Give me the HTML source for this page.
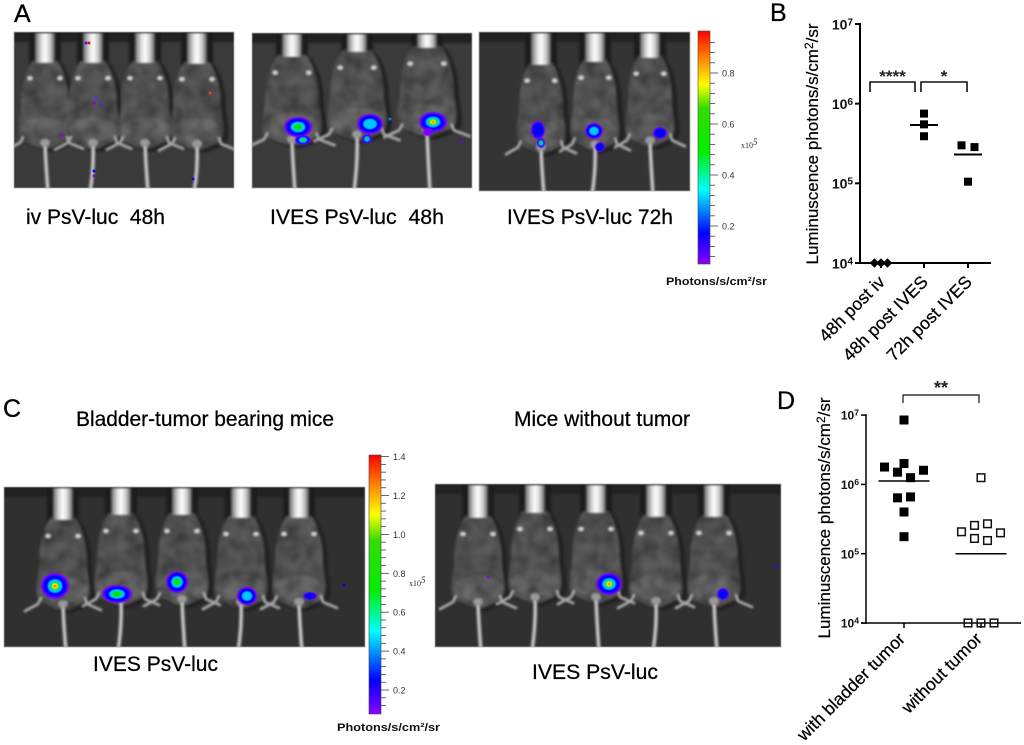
<!DOCTYPE html>
<html lang="en">
<head>
<meta charset="utf-8">
<title>Luminescence imaging figure</title>
<style>
html,body{margin:0;padding:0;background:#fff;}
svg{display:block;font-family:"Liberation Sans",sans-serif;}
</style>
</head>
<body>
<svg id="fig" width="1024" height="745" viewBox="0 0 1024 745" xmlns="http://www.w3.org/2000/svg">
<defs>
<filter id="soft" x="-5%" y="-5%" width="110%" height="110%"><feGaussianBlur stdDeviation="1.1"/></filter>
<filter id="softer" x="-20%" y="-20%" width="140%" height="140%"><feGaussianBlur stdDeviation="0.6"/></filter>
<filter id="mottleBody" x="-5%" y="-5%" width="110%" height="110%">
<feTurbulence type="fractalNoise" baseFrequency="0.07" numOctaves="2" seed="4" result="n"/>
<feColorMatrix in="n" type="matrix" values="0 0 0 0 0  0 0 0 0 0  0 0 0 0 0  0 0 0 1.1 -0.3" result="d"/>
<feComposite in="d" in2="SourceAlpha" operator="in" result="m"/>
<feMerge result="c"><feMergeNode in="SourceGraphic"/><feMergeNode in="m"/></feMerge>
<feGaussianBlur in="c" stdDeviation="1.2"/>
</filter>
<linearGradient id="metal" x1="0" x2="1" y1="0" y2="0">
<stop offset="0" stop-color="#666"/><stop offset=".3" stop-color="#d8d8d8"/><stop offset=".5" stop-color="#fff"/><stop offset=".75" stop-color="#ccc"/><stop offset="1" stop-color="#555"/>
</linearGradient>
<linearGradient id="rainbow" x1="0" x2="0" y1="0" y2="1">
<stop offset="0" stop-color="#f00"/><stop offset=".12" stop-color="#f80"/><stop offset=".23" stop-color="#ff0"/><stop offset=".33" stop-color="#3d0"/><stop offset=".52" stop-color="#0e0"/><stop offset=".68" stop-color="#0ff"/><stop offset=".87" stop-color="#00f"/><stop offset="1" stop-color="#80f"/>
</linearGradient>
</defs>

<g font-size="25" fill="#000" stroke="#000" stroke-width=".3">
<text x="14" y="22">A</text>
<text x="770" y="21">B</text>
<text x="3" y="417">C</text>
<text x="777" y="409">D</text>
</g>

<g font-size="21" fill="#000" stroke="#000" stroke-width=".25">
<text x="26" y="224" textLength="139" lengthAdjust="spacingAndGlyphs">iv PsV-luc&#160;&#160;48h</text>
<text x="270" y="224" textLength="174" lengthAdjust="spacingAndGlyphs">IVES PsV-luc&#160;&#160;48h</text>
<text x="507" y="224" textLength="166" lengthAdjust="spacingAndGlyphs">IVES PsV-luc 72h</text>
<text x="76" y="426" textLength="258" lengthAdjust="spacingAndGlyphs">Bladder-tumor bearing mice</text>
<text x="514" y="426" textLength="176" lengthAdjust="spacingAndGlyphs">Mice without tumor</text>
<text x="93" y="671" textLength="125" lengthAdjust="spacingAndGlyphs">IVES PsV-luc</text>
<text x="532" y="679" textLength="126" lengthAdjust="spacingAndGlyphs">IVES PsV-luc</text>
</g>

<g id="panels"></g>

<g id="barA">
<rect x="698" y="31" width="12" height="233" fill="url(#rainbow)" stroke="#444" stroke-width=".6"/>
<text x="741" y="148" font-family="Liberation Serif" font-size="8" fill="#333">x10<tspan font-size="9" dy="-3" font-style="italic">5</tspan></text>
<text x="666" y="285" font-size="11" font-weight="bold" fill="#111" textLength="101" lengthAdjust="spacingAndGlyphs">Photons/s/cm²/sr</text>
</g>
<g id="barC">
<rect x="369" y="455" width="12" height="259" fill="url(#rainbow)" stroke="#444" stroke-width=".6"/>
<text x="409" y="586" font-family="Liberation Serif" font-size="8" fill="#333">x10<tspan font-size="9" dy="-3" font-style="italic">5</tspan></text>
<text x="337" y="731" font-size="11" font-weight="bold" fill="#111" textLength="103" lengthAdjust="spacingAndGlyphs">Photons/s/cm²/sr</text>
</g>

<g id="chartB"></g>
<g id="chartD"></g>
</svg>

<script>
/* Chart B data */
const bCategories = ['48h post iv', '48h post IVES', '72h post IVES'];
const bPostIv = [10000, 10000, 10000];
const bPostIves48 = [750000, 550000, 390000];
const bPostIves72 = [300000, 285000, 105000];
const bMeans = [10000, 540000, 230000];
const bSwarmSlots = [[-1, 0, 1], [0, 0, 0], [-1, 1, 0]];

/* Chart D data */
const dCategories = ['with bladder tumor', 'without tumor'];
const dWithTumor = [8500000, 2000000, 1780000, 1500000, 1600000, 1250000, 640000, 660000, 400000, 176000];
const dWithoutTumor = [1250000, 256000, 270000, 207000, 200000, 166000, 155000, 10000, 10000, 10000];
const dMeans = [1120000, 100000];
const dSwarmSlots = [[0, 0, -3, -1, 3, 1, -1, 1, 0, 0], [0, -1, 1, -3, 3, -1, 1, -2, 0, 2]];

/* Shared axis data */
const logTicks = [10000, 100000, 1000000, 10000000];
const logTickExponents = ['4', '5', '6', '7'];

/* Colour bar data */
const barATicks = [0.08,0.12,0.16,0.2,0.24,0.28,0.32,0.36,0.4,0.44,0.48,0.52,0.56,0.6,0.64,0.68,0.72,0.76,0.8,0.84,0.88,0.92];
const barALabels = [0.2, 0.4, 0.6, 0.8];
const barCTicks = [0.12,0.16,0.2,0.24,0.28,0.32,0.36,0.4,0.44,0.48,0.52,0.56,0.6,0.64,0.68,0.72,0.76,0.8,0.84,0.88,0.92,0.96,1.0,1.04,1.08,1.12,1.16,1.2,1.24,1.28,1.32,1.36,1.4];
const barCLabels = [0.2, 0.4, 0.6, 0.8, 1.0, 1.2, 1.4];

const NS = 'http://www.w3.org/2000/svg';
function make(parent, tag, attrs, text) {
  const el = document.createElementNS(NS, tag);
  for (const k in attrs) el.setAttribute(k, attrs[k]);
  if (text !== undefined) el.textContent = text;
  parent.appendChild(el);
  return el;
}

/* ---------- colour bars ---------- */
function drawBar(host, ticks, labels, yOf, x0) {
  ticks.forEach(function (v) {
    const major = labels.some(function (l) { return Math.abs(l - v) < 1e-6; });
    const t = make(host, 'line', {x1: x0, x2: x0 + (major ? 8 : 5), y1: yOf(v), y2: yOf(v), stroke: '#444', 'stroke-width': 0.8});
    
    
  });
  labels.forEach(function (v) {
    const t = make(host, 'text', {x: x0 + 12, y: yOf(v) + 3.5, 'font-size': 9, fill: '#333'}, v.toFixed(1));
    
    
  });
}
drawBar(document.getElementById('barA'), barATicks, barALabels, function (v) { return 226 - (v - 0.2) * 255; }, 710);
drawBar(document.getElementById('barC'), barCTicks, barCLabels, function (v) { return 690 - (v - 0.2) * 194.5; }, 381);

/* ---------- Prism-like scatter charts ---------- */
function drawChart(cfg) {
  const g = document.getElementById(cfg.id);
  const y = function (v) { return cfg.y0 - (Math.log10(v) - 4) * cfg.decade; };
  const x = function (i) { return cfg.xs(i); };

  const yAxis = make(g, 'line', {x1: cfg.ax, x2: cfg.ax, y1: y(1e7) - 1, y2: y(1e4) + 1, stroke: '#000', 'stroke-width': cfg.axisW});
  
  
  const xAxis = make(g, 'line', {x1: cfg.ax - 5, x2: cfg.axEnd, y1: y(1e4), y2: y(1e4), stroke: '#000', 'stroke-width': cfg.axisW});
  
  

  logTicks.forEach(function (v, i) {
    const t = make(g, 'line', {x1: cfg.ax - 5, x2: cfg.ax, y1: y(v), y2: y(v), stroke: '#000', 'stroke-width': cfg.axisW});
    
    
    const lab = make(g, 'text', {x: cfg.ax - 7, y: y(v) + cfg.tickFont * 0.38, 'text-anchor': 'end', 'font-size': cfg.tickFont, 'font-weight': 'bold', fill: '#111'}, '10');
    
    
    const sup = make(lab, 'tspan', {dy: -4, 'font-size': cfg.tickFont * 0.72}, logTickExponents[i]);
    
    
  });

  cfg.categories.forEach(function (c, i) {
    const t = make(g, 'line', {x1: x(i), x2: x(i), y1: y(1e4), y2: y(1e4) + 5, stroke: '#000', 'stroke-width': cfg.axisW});
    
    
    const lab = make(g, 'text', {'text-anchor': 'end', 'font-size': cfg.catFont, fill: '#000', stroke: '#000', 'stroke-width': 0.25, transform: 'translate(' + (x(i) + cfg.catDx) + ',' + (y(1e4) + cfg.catDy) + ') rotate(-45)'}, c);
    
    
  });

  cfg.series.forEach(function (vals, si) {
    const open = cfg.open[si];
    vals.forEach(function (v, pi) {
      const px = x(si) + cfg.swarm[si][pi] * cfg.slot;
      const py = y(v);
      const s = cfg.size;
      let m;
      if (cfg.diamond[si]) {
        m = make(g, 'rect', {x: px - s * 0.42, y: py - s * 0.42, width: s * 0.84, height: s * 0.84, fill: '#000', transform: 'rotate(45 ' + px + ' ' + py + ')'});
      } else if (open) {
        m = make(g, 'rect', {x: px - s / 2 + 0.7, y: py - s / 2 + 0.7, width: s - 1.4, height: s - 1.4, fill: 'none', stroke: '#111', 'stroke-width': 1.5});
      } else {
        m = make(g, 'rect', {x: px - s / 2, y: py - s / 2, width: s, height: s, fill: '#000'});
      }
      
      
    });
    const ml = make(g, 'line', {x1: x(si) - cfg.meanHalf, x2: x(si) + cfg.meanHalf, y1: y(cfg.means[si]), y2: y(cfg.means[si]), stroke: '#000', 'stroke-width': cfg.axisW});
    
    
  });

  const title = make(g, 'text', {'text-anchor': 'middle', 'font-size': cfg.titleFont, fill: '#000', stroke: '#000', 'stroke-width': 0.2, transform: 'translate(' + cfg.titleX + ',' + cfg.titleY + ') rotate(-90)'}, 'Luminuscence photons/s/cm');
  
  
  const sq = make(title, 'tspan', {dy: -5, 'font-size': cfg.titleFont * 0.7}, '2');
  
  
  const tail = make(title, 'tspan', {dy: 5}, '/sr');
  
  

  cfg.brackets.forEach(function (b) {
    const p = make(g, 'path', {d: 'M' + b.a + ' ' + b.bot + 'V' + b.top + 'H' + b.b + 'V' + b.bot, fill: 'none', stroke: '#111', 'stroke-width': cfg.axisW * 0.8});
    
    
    const s = make(g, 'text', {x: (b.a + b.b) / 2, y: b.top + b.dy, 'text-anchor': 'middle', 'font-size': b.f, 'font-weight': 'bold', fill: '#222'}, b.t);
    
    
  });
}

drawChart({
  id: 'chartB', y0: 263, decade: 79.67, ax: 860, axEnd: 991, axisW: 2,
  xs: function (i) { return 881 + (i === 0 ? 0 : i === 1 ? 43 : 87); },
  categories: bCategories, series: [bPostIv, bPostIves48, bPostIves72], means: bMeans,
  swarm: bSwarmSlots, slot: 6.5, size: 8, open: [false, false, false], diamond: [true, false, false],
  meanHalf: 14, tickFont: 14, catFont: 17.5, catDx: 5, catDy: 20, titleFont: 17, titleX: 818, titleY: 144,
  brackets: [
    {a: 870, b: 915, top: 82, bot: 92, dy: 0, t: '****', f: 17},
    {a: 921, b: 967, top: 82, bot: 92, dy: 0, t: '*', f: 17}
  ]
});
drawChart({
  id: 'chartD', y0: 623, decade: 69.3, ax: 866, axEnd: 1021, axisW: 1.5,
  xs: function (i) { return 904 + i * 77; },
  categories: dCategories, series: [dWithTumor, dWithoutTumor], means: dMeans,
  swarm: dSwarmSlots, slot: 6.5, size: 9, open: [false, true], diamond: [false, false],
  meanHalf: 25.5, tickFont: 12, catFont: 17.5, catDx: 2, catDy: 17, titleFont: 17, titleX: 830, titleY: 518,
  brackets: [{a: 903, b: 979, top: 395, bot: 403, dy: -1, t: '**', f: 18}]
});

/* ---------- mouse photographs (illustrative imagery, not chart marks) ---------- */
const heat = ['#8000ff', '#0000ff', '#00c8ff', '#00e000', '#ffff00', '#ff0000'];
const heatRadii = [1, 0.86, 0.5, 0.34, 0.2, 0.1];
const panels = [
  {name: 'image-iv-48h', x: 14, y: 32, w: 220, h: 156, sx: 1, sy: .95, bg: '#3a3a3a',
   mice: [[45, 63], [93, 63], [145, 63], [197, 64]],
   spots: [],
   specks: [[86, 43, '#2020ff'], [89, 43, '#ff0000'], [96, 98, '#6020ff'], [94, 103, '#8000ff'], [101, 104, '#3030ff'], [62, 135, '#8000ff'], [94, 171, '#0000ff'], [94, 176, '#8000ff'], [193, 179, '#0000ff'], [210, 93, '#ff4000']]},
  {name: 'image-ives-48h', x: 252, y: 33, w: 220, h: 155, sx: 1.12, sy: .98, bg: '#3a3a3a',
   mice: [[292, 57], [357, 52], [427, 48]],
   spots: [[298, 127, 14, 10, 4], [303, 140, 8, 5, 4], [370, 124, 13, 10, 3], [367, 139, 5, 5, 4], [433, 122, 14, 10, 6], [428, 132, 5, 4, 1]],
   specks: [[390, 119, '#0080ff'], [461, 141, '#6000ff']]},
  {name: 'image-ives-72h', x: 479, y: 32, w: 211, h: 159, sx: .92, sy: .98, bg: '#343434',
   mice: [[541, 65], [595, 62], [650, 58]],
   spots: [[538, 130, 7, 9, 2], [541, 143, 4, 5, 4], [594, 131, 9, 8, 3], [600, 147, 5, 5, 2], [660, 133, 7, 6, 2]],
   specks: []},
  {name: 'image-tumor-bearing', x: 4, y: 487, w: 361, h: 160, sx: 1, sy: 1, bg: '#303030',
   mice: [[63, 520], [121, 515], [182, 515], [241, 518], [299, 518]],
   spots: [[55, 586, 14, 13, 6], [117, 594, 15, 9, 4], [177, 582, 11, 11, 4], [247, 596, 10, 9, 3], [310, 596, 7, 4, 2]],
   specks: [[344, 585, '#0000ff']]},
  {name: 'image-no-tumor', x: 435, y: 484, w: 346, h: 163, sx: 1, sy: 1, bg: '#303030',
   mice: [[478, 518], [535, 513], [596, 513], [656, 517], [714, 517]],
   spots: [[609, 584, 13, 11, 6], [723, 594, 6, 6, 2]],
   specks: [[488, 577, '#8000ff'], [776, 567, '#3000ff']]}
];

const host = document.getElementById('panels');
panels.forEach(function (P, pi) {
  const group = make(host, 'g', {});
  
  

  const clip = make(document.querySelector('defs'), 'clipPath', {id: 'clip' + pi});
  make(clip, 'rect', {x: P.x, y: P.y, width: P.w, height: P.h});

  const bg = make(group, 'rect', {x: P.x, y: P.y, width: P.w, height: P.h, fill: P.bg});
  
  

  const scene = make(group, 'g', {'clip-path': 'url(#clip' + pi + ')'});
  
  

  const backdrop = make(scene, 'g', {filter: 'url(#soft)'});
  
  

  const band = make(backdrop, 'rect', {x: P.x, y: P.y, width: P.w, height: 10, fill: '#222'});
  
  

  const bodies = make(scene, 'g', {filter: 'url(#mottleBody)'});
  
  

  P.mice.forEach(function (M, mi) {
    const cx = M[0], cb = M[1], sx = P.sx, sy = P.sy;
    const px = function (v) { return cx + v * sx; };
    const py = function (v) { return cb + v * sy; };
    const bodyPath =
      'M' + px(-13) + ' ' + py(-2) + 'C' + px(-22) + ' ' + py(14) + ' ' + px(-24) + ' ' + py(30) + ' ' + px(-24) + ' ' + py(45) +
      'C' + px(-25) + ' ' + py(60) + ' ' + px(-30) + ' ' + py(72) + ' ' + px(-23) + ' ' + py(82) +
      'L' + px(-5) + ' ' + py(90) + 'L' + px(5) + ' ' + py(90) + 'L' + px(23) + ' ' + py(82) +
      'C' + px(30) + ' ' + py(72) + ' ' + px(25) + ' ' + py(60) + ' ' + px(24) + ' ' + py(45) +
      'C' + px(24) + ' ' + py(30) + ' ' + px(22) + ' ' + py(14) + ' ' + px(13) + ' ' + py(-2) + 'Z';

    const shade = make(backdrop, 'rect', {x: cx - 16, y: P.y, width: 32, height: cb - P.y + 2, fill: '#1e1e1e'});
    
    

    const shadow = make(backdrop, 'path', {d: bodyPath, fill: '#242424', transform: 'translate(5 3)'});
    
    

    const body = make(bodies, 'path', {d: bodyPath, fill: '#5c5c5c'});
    
    

    const hip = make(bodies, 'ellipse', {cx: cx, cy: py(70), rx: 24 * sx, ry: 13 * sy, fill: '#6a6a6a'});
    
    
  });

  const upper = make(scene, 'g', {filter: 'url(#soft)'});
  
  

  P.mice.forEach(function (M, mi) {
    const cx = M[0], cb = M[1], sx = P.sx, sy = P.sy;
    const flip = mi % 2 ? -1 : 1;
    const px = function (v) { return cx + v * sx; };
    const py = function (v) { return cb + v * sy; };

    const legs = make(upper, 'path', {
      d: 'M' + px(-22) + ' ' + py(78) + 'L' + px(-25) + ' ' + py(84) + 'L' + px(-38) + ' ' + py(91) +
         'M' + px(22) + ' ' + py(78) + 'L' + px(24) + ' ' + py(84) + 'L' + px(38) + ' ' + py(90),
      fill: 'none', stroke: '#a8a8a8', 'stroke-width': 2.8, 'stroke-linecap': 'round', 'stroke-linejoin': 'round'});
    
    

    const tail = make(upper, 'path', {
      d: 'M' + cx + ' ' + py(86) + 'Q' + (cx + 1) + ' ' + py(110) + ' ' + (cx + 3 * flip) + ' ' + (P.y + P.h + 4),
      fill: 'none', stroke: '#c4c4c4', 'stroke-width': 3.6});
    
    

    const tailBase = make(upper, 'ellipse', {cx: cx, cy: py(84), rx: 5, ry: 4, fill: '#999'});
    
    

    const earL = make(upper, 'ellipse', {cx: px(-15), cy: py(16), rx: 3, ry: 2.4, fill: '#cfcfcf'});
    
    
    const earR = make(upper, 'ellipse', {cx: px(15), cy: py(16), rx: 3, ry: 2.4, fill: '#cfcfcf'});
    
    

    const cyl = make(upper, 'rect', {x: cx - 10, y: P.y + 1, width: 20, height: cb - P.y - 1, fill: 'url(#metal)'});
    
    
  });

  const hot = make(scene, 'g', {filter: 'url(#softer)'});
  
  
  P.spots.forEach(function (S) {
    for (let k = 0; k < S[4]; k++) {
      const f = heatRadii[k];
      const e = make(hot, 'ellipse', {cx: S[0], cy: S[1], rx: S[2] * f, ry: S[3] * f, fill: heat[k]});
      
      
    }
  });
  P.specks.forEach(function (S) {
    const r = make(scene, 'rect', {x: S[0] - 1.3, y: S[1] - 1.3, width: 2.6, height: 2.6, fill: S[2]});
    
    
  });

  const frame = make(group, 'rect', {x: P.x, y: P.y, width: P.w, height: P.h, fill: 'none', stroke: '#aaa', 'stroke-width': 0.8});
  
  
});
</script>
</body>
</html>
